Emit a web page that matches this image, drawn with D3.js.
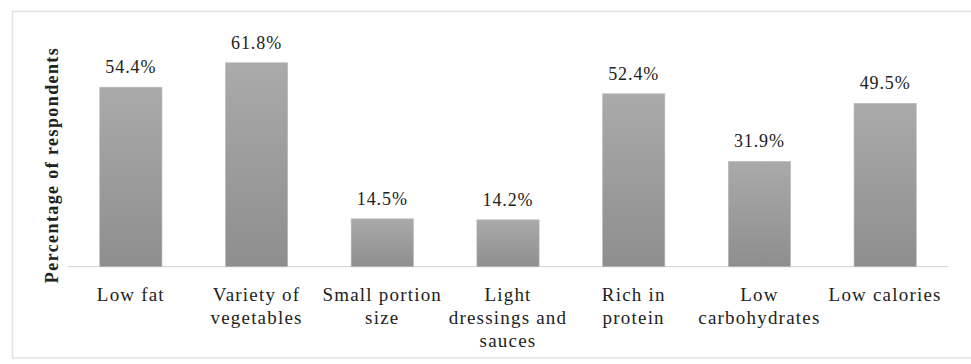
<!DOCTYPE html>
<html><head><meta charset="utf-8">
<script src="https://cdn.jsdelivr.net/npm/d3@7"></script>
<style>
html,body{margin:0;padding:0;background:#fff;}
svg{display:block;}
</style>
</head><body>
<script>
const categories = ["Low fat", "Variety of vegetables", "Small portion size", "Light dressings and sauces", "Rich in protein", "Low carbohydrates", "Low calories"];
const categoryLines = [["Low fat"], ["Variety of", "vegetables"], ["Small portion", "size"], ["Light", "dressings and", "sauces"], ["Rich in", "protein"], ["Low", "carbohydrates"], ["Low calories"]];
const values = [54.4, 61.8, 14.5, 14.2, 52.4, 31.9, 49.5];
const valueLabels = ["54.4%", "61.8%", "14.5%", "14.2%", "52.4%", "31.9%", "49.5%"];
const yTitle = "Percentage of respondents";

const W = 971, H = 364;
const svg = d3.select("body").append("svg").attr("width", W).attr("height", H);

const defs = svg.append("defs");
const grad = defs.append("linearGradient").attr("id", "barGrad")
  .attr("x1", 0).attr("y1", 0).attr("x2", 0).attr("y2", 1);
grad.append("stop").attr("offset", "0%").attr("stop-color", "#aaaaaa");
grad.append("stop").attr("offset", "100%").attr("stop-color", "#8e8e8e");

// outer frame
svg.append("rect").attr("x", 12.5).attr("y", 11.5).attr("width", 970).attr("height", 346.5)
  .attr("fill", "none").attr("stroke", "#e2e2e2").attr("stroke-width", 1.5);

const x = d3.scaleBand().domain(categories).range([68, 948]).paddingInner(0.505).paddingOuter(0.2525);
const y = d3.scaleLinear().domain([0, 70]).range([266.7, 35.7]);

// baseline axis
const xAxis = d3.axisBottom(x).tickSize(0).tickFormat("");
const gx = svg.append("g").attr("transform", `translate(0,${y(0)})`).call(xAxis);
gx.select(".domain").attr("stroke", "#d9d9d9").attr("stroke-width", 1.2).attr("d", `M${x.range()[0]},0H${x.range()[1]}`);

svg.append("g").selectAll("rect").data(values).join("rect")
  .attr("x", (d, i) => x(categories[i]))
  .attr("width", x.bandwidth())
  .attr("y", d => y(d))
  .attr("height", d => y(0) - y(d))
  .attr("fill", "url(#barGrad)")
  .attr("stroke", "#b8b8b8").attr("stroke-width", 0.6);

svg.append("g").selectAll("text").data(values).join("text")
  .attr("x", (d, i) => x(categories[i]) + x.bandwidth() / 2)
  .attr("y", d => y(d) - 14)
  .attr("text-anchor", "middle")
  .attr("font-family", "'Liberation Serif', 'Times New Roman', serif")
  .attr("font-size", 18)
  .attr("letter-spacing", "0.9px")
  .attr("fill", "#222")
  .text((d, i) => valueLabels[i]);

const cat = svg.append("g").selectAll("text").data(categories).join("text")
  .attr("text-anchor", "middle")
  .attr("font-family", "'Liberation Serif', 'Times New Roman', serif")
  .attr("font-size", 19)
  .attr("letter-spacing", "1.2px")
  .attr("fill", "#222");
cat.each(function(d, i) {
  const t = d3.select(this);
  categoryLines[i].forEach((ln, j) => {
    t.append("tspan").attr("x", x(d) + x.bandwidth() / 2).attr("y", 301 + j * 23).text(ln);
  });
});

svg.append("text")
  .attr("transform", `translate(58,165) rotate(-90)`)
  .attr("text-anchor", "middle")
  .attr("font-family", "'Liberation Serif', 'Times New Roman', serif")
  .attr("font-weight", "bold")
  .attr("font-size", 18)
  .attr("letter-spacing", "1.4px")
  .attr("fill", "#222")
  .text(yTitle);
</script>
</body></html>
